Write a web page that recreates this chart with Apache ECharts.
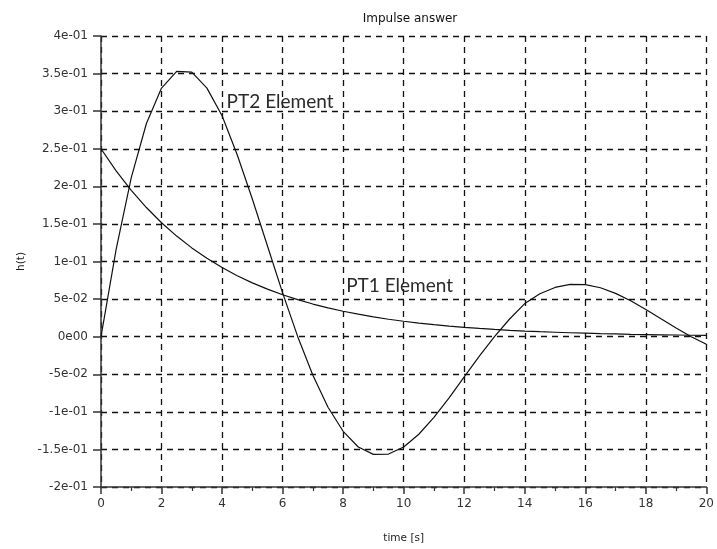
<!DOCTYPE html>
<html>
<head>
<meta charset="utf-8">
<script src="https://cdn.jsdelivr.net/npm/echarts@6/dist/echarts.min.js"></script>
<style>html,body{margin:0;padding:0;background:#fff}#c{width:717px;height:549px}</style>
</head>
<body>
<div id="c"></div>
<script>
var timeValues = [0,0.5,1,1.5,2,2.5,3,3.5,4,4.5,5,5.5,6,6.5,7,7.5,8,8.5,9,9.5,10,10.5,11,11.5,12,12.5,13,13.5,14,14.5,15,15.5,16,16.5,17,17.5,18,18.5,19,19.5,20];
var pt1Values = [0.25,0.2206,0.1947,0.1718,0.1516,0.1338,0.1181,0.1042,0.0920,0.0811,0.0716,0.0632,0.0558,0.0492,0.0434,0.0383,0.0338,0.0299,0.0264,0.0232,0.0205,0.0181,0.0160,0.0141,0.0124,0.0110,0.0097,0.0085,0.0075,0.0066,0.0059,0.0052,0.0046,0.0040,0.0036,0.0031,0.0028,0.0025,0.0022,0.0019,0.0017];
var pt2Values = [0,0.1160,0.2116,0.2836,0.3307,0.3530,0.3520,0.3307,0.2940,0.2420,0.1831,0.1206,0.0583,0,-0.0514,-0.0939,-0.1259,-0.1468,-0.1566,-0.1562,-0.1468,-0.1298,-0.1074,-0.0813,-0.0535,-0.0259,0,0.0235,0.0440,0.0570,0.0655,0.0695,0.0693,0.0651,0.0576,0.0477,0.0361,0.0237,0.0115,0,-0.0101];
var labelPT2 = {text: 'PT2 Element', t: 4.15, v: 0.312};
var labelPT1 = {text: 'PT1 Element', t: 8.1, v: 0.068};
var titleText = 'Impulse answer';
var xName = 'time [s]';
var yName = 'h(t)';

function pairs(xs, ys){ return xs.map(function(x,i){ return [x, ys[i]]; }); }
function fmtY(v){
  if (Math.abs(v) < 1e-12) return '0e00';
  var s = v.toExponential();
  var parts = s.split('e');
  var m = Math.round(parseFloat(parts[0])*1000)/1000;
  var ex = parseInt(parts[1],10);
  var ae = Math.abs(ex);
  return String(m) + 'e' + (ex < 0 ? '-' : '') + (ae < 10 ? '0' + ae : ae);
}
var gridLine = {show: true, lineStyle: {color: '#111', type: [6,5], width: 1.3}};
var chart = echarts.init(document.getElementById('c'));
chart.setOption({
  animation: false,
  backgroundColor: '#fff',
  title: {text: titleText, left: 405, top: 8, textAlign: 'center',
    textStyle: {fontFamily: 'DejaVu Sans', fontSize: 12, fontWeight: 'normal', color: '#111'}},
  grid: {left: 101, right: 7, top: 36, bottom: 53, containLabel: false},
  xAxis: {
    type: 'value', min: 0, max: 20, interval: 2,
    name: xName, nameLocation: 'middle', nameGap: 46,
    nameTextStyle: {fontFamily: 'DejaVu Sans', fontSize: 10.5, color: '#1a1a1a'},
    axisLine: {show: true, onZero: false, lineStyle: {color: '#333', width: 1.5}},
    axisTick: {show: true, inside: false, length: 7, lineStyle: {color: '#333', width: 1.5}},
    minorTick: {show: true, splitNumber: 2, length: 4, lineStyle: {color: '#333', width: 1.2}},
    axisLabel: {margin: 11, fontFamily: 'DejaVu Sans', fontSize: 12, color: '#333'},
    splitLine: gridLine
  },
  yAxis: {
    type: 'value', min: -0.2, max: 0.4, interval: 0.05,
    name: yName, nameLocation: 'middle', nameGap: 74, nameRotate: 90,
    nameTextStyle: {fontFamily: 'DejaVu Sans', fontSize: 10.5, color: '#1a1a1a'},
    axisLine: {show: true, onZero: false, lineStyle: {color: '#333', width: 1.5}},
    axisTick: {show: true, inside: false, length: 8, lineStyle: {color: '#333', width: 1.5}},
    axisLabel: {margin: 13, fontFamily: 'DejaVu Sans', fontSize: 12, color: '#333', formatter: fmtY},
    splitLine: gridLine
  },
  series: [
    {type: 'line', name: 'PT2', data: pairs(timeValues, pt2Values), showSymbol: false, symbol: 'none',
     lineStyle: {color: '#111', width: 1.2}, z: 5,
     markPoint: {symbol: 'circle', symbolSize: 0, silent: true,
       data: [{coord: [labelPT2.t, labelPT2.v], value: labelPT2.text}],
       label: {show: true, position: 'right', distance: 0, formatter: '{c}', fontFamily: 'Lato', fontSize: 19, color: '#2a2a2a'}}},
    {type: 'line', name: 'PT1', data: pairs(timeValues, pt1Values), showSymbol: false, symbol: 'none',
     lineStyle: {color: '#111', width: 1.2}, z: 5,
     markPoint: {symbol: 'circle', symbolSize: 0, silent: true,
       data: [{coord: [labelPT1.t, labelPT1.v], value: labelPT1.text}],
       label: {show: true, position: 'right', distance: 0, formatter: '{c}', fontFamily: 'Lato', fontSize: 19, color: '#2a2a2a'}}}
  ]
});
</script>
</body>
</html>
